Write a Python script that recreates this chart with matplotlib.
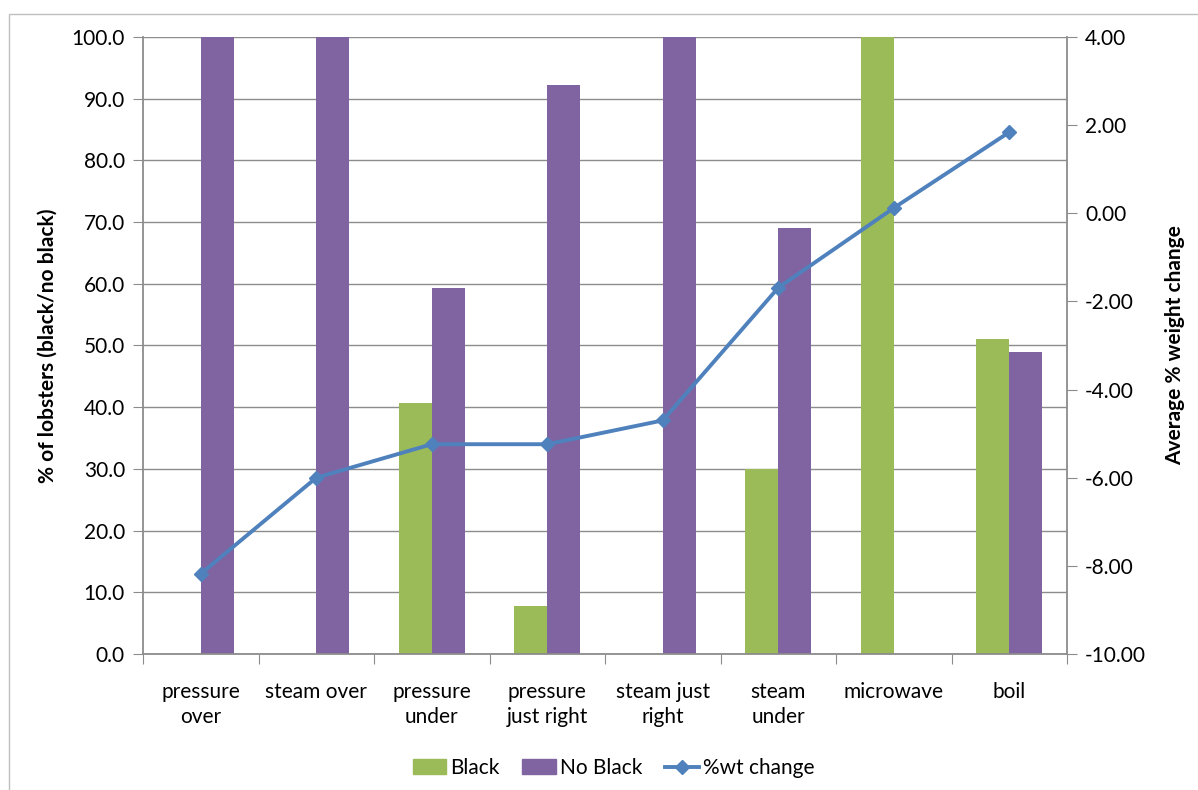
import matplotlib.pyplot as plt
import matplotlib.patches as mpatches
from matplotlib.lines import Line2D
import numpy as np

plt.rcParams['font.family'] = ['Lato', 'DejaVu Sans']

categories = ['pressure\nover', 'steam over', 'pressure\nunder', 'pressure\njust right',
              'steam just\nright', 'steam\nunder', 'microwave', 'boil']
black = [0, 0, 40.6, 7.8, 0, 30.0, 100.0, 51.1]
no_black = [100.0, 100.0, 59.4, 92.2, 100.0, 69.1, 0, 48.9]
wt_change = [-8.18, -6.00, -5.24, -5.24, -4.70, -1.69, 0.12, 1.84]

green = '#9BBB59'
purple = '#8064A2'
blue = '#4F81BD'
grid = '#8C8C8C'
fs = 15

fig = plt.figure(figsize=(11.98, 7.9), dpi=100)
# light frame around the whole chart
fig.patches.append(mpatches.Rectangle((9 / 1198, -0.1), 1.2, 1 - 14 / 790 + 0.1,
                                      transform=fig.transFigure, fill=False,
                                      edgecolor='#BFBFBF', linewidth=1))

ax = fig.add_axes([143 / 1198, 1 - 654 / 790, (1067 - 143) / 1198, (654 - 37) / 790])
x = np.arange(len(categories))
w = 0.287
ax.bar(x - w / 2, black, w, color=green, zorder=2, label='Black')
ax.bar(x + w / 2, no_black, w, color=purple, zorder=2, label='No Black')

ax.set_xlim(-0.5, len(categories) - 0.5)
ax.set_ylim(0, 100)
ax.set_yticks(np.arange(0, 101, 10))
ax.set_yticklabels([f'{v:.1f}' for v in np.arange(0, 101, 10)], fontsize=fs)
ax.yaxis.grid(True, color=grid, linewidth=1)
ax.set_axisbelow(True)
ax.set_xticks(np.arange(-0.5, len(categories), 1))
ax.set_xticklabels([])
ax.set_xticks(x, minor=True)
ax.set_xticklabels(categories, minor=True, fontsize=fs, linespacing=1.35, va='top')
ax.tick_params(axis='x', which='minor', length=0, pad=20)
ax.tick_params(axis='x', which='major', length=7, color=grid, direction='out')
ax.tick_params(axis='y', length=7, color=grid, pad=6)
ax.set_ylabel('% of lobsters (black/no black)', fontsize=fs, fontweight='bold', labelpad=10)
for s in ['top', 'right']:
    ax.spines[s].set_visible(False)
for s in ['left', 'bottom']:
    ax.spines[s].set_color(grid)
    ax.spines[s].set_linewidth(1.3)

ax2 = ax.twinx()
ax2.plot(x, wt_change, color=blue, linewidth=2.8, marker='D', markersize=7,
         zorder=3, label='%wt change')
ax2.set_ylim(-10, 4)
ax2.set_yticks(np.arange(-10, 4.1, 2))
ax2.set_yticklabels([f'{v:.2f}' for v in np.arange(-10, 4.1, 2)], fontsize=fs)
ax2.tick_params(axis='y', length=7, color=grid, pad=6)
ax2.set_ylabel('Average % weight change', fontsize=fs, fontweight='bold', labelpad=14)
for s in ['top', 'left', 'bottom']:
    ax2.spines[s].set_visible(False)
ax2.spines['right'].set_color(grid)
ax2.spines['right'].set_linewidth(1.3)

handles = [mpatches.Patch(color=green, label='Black'),
           mpatches.Patch(color=purple, label='No Black'),
           Line2D([0], [0], color=blue, linewidth=2.8, marker='D', markersize=7,
                  label='%wt change')]
fig.legend(handles=handles, loc='center', bbox_to_anchor=(0.512, 1 - 768 / 790), ncol=3,
           frameon=False, fontsize=fs, handlelength=1.6, handletextpad=0.2,
           columnspacing=1.1)

fig.savefig('out.png', dpi=100)
